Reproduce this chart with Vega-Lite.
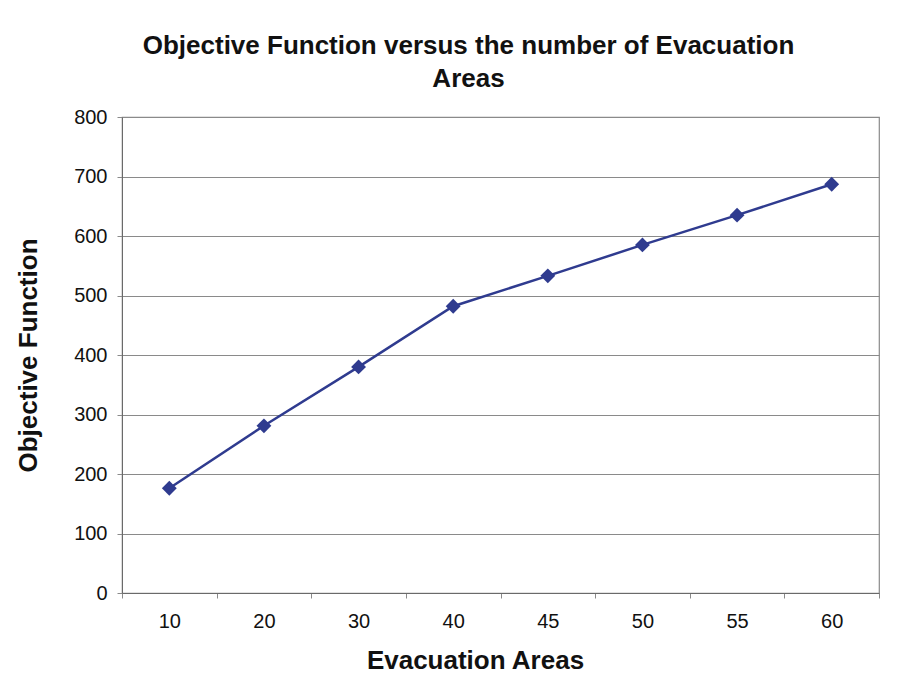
{
  "$schema": "https://vega.github.io/schema/vega-lite/v6.json",
  "autosize": "none",
  "width": 757,
  "height": 476,
  "padding": {"left": 122, "top": 117, "right": 23, "bottom": 88},
  "background": "white",
  "config": {
    "font": "Liberation Sans",
    "view": {"stroke": "#8a8a8a", "strokeWidth": 1.2}
  },
  "title": {
    "text": ["Objective Function versus the number of Evacuation", "Areas"],
    "font": "Liberation Sans",
    "fontSize": 26,
    "fontWeight": "bold",
    "color": "#111111",
    "anchor": "middle",
    "frame": "group",
    "dx": -32,
    "lineHeight": 33,
    "offset": 15
  },
  "data": {
    "values": [
      {"areas": "10", "objective": 176},
      {"areas": "20", "objective": 281},
      {"areas": "30", "objective": 380},
      {"areas": "40", "objective": 482},
      {"areas": "45", "objective": 533},
      {"areas": "50", "objective": 585},
      {"areas": "55", "objective": 635},
      {"areas": "60", "objective": 687}
    ]
  },
  "encoding": {
    "x": {
      "field": "areas",
      "type": "ordinal",
      "sort": null,
      "scale": {"type": "band", "paddingInner": 0, "paddingOuter": 0},
      "axis": {
        "title": "Evacuation Areas",
        "titleFontSize": 26,
        "titleFontWeight": "bold",
        "titleColor": "#111111",
        "titlePadding": 16,
        "titleX": 353,
        "labelAngle": 0,
        "labelFontSize": 20,
        "labelColor": "#111111",
        "labelPadding": 13,
        "tickBand": "extent",
        "tickSize": 5,
        "tickColor": "#8a8a8a",
        "domainColor": "#6a6a6a",
        "grid": false
      }
    },
    "y": {
      "field": "objective",
      "type": "quantitative",
      "scale": {"domain": [0, 800], "nice": false},
      "axis": {
        "title": "Objective Function",
        "titleFontSize": 26,
        "titleFontWeight": "bold",
        "titleColor": "#111111",
        "titlePadding": 32,
        "values": [0, 100, 200, 300, 400, 500, 600, 700, 800],
        "labelFontSize": 20,
        "labelColor": "#111111",
        "labelPadding": 10,
        "tickSize": 5,
        "tickColor": "#8a8a8a",
        "domainColor": "#6a6a6a",
        "grid": true,
        "gridColor": "#8a8a8a",
        "gridWidth": 1.2
      }
    }
  },
  "layer": [
    {"mark": {"type": "line", "color": "#2f3b8f", "strokeWidth": 2.5}},
    {"mark": {"type": "point", "shape": "diamond", "filled": true, "opacity": 1, "size": 220, "color": "#2f3b8f"}}
  ]
}
